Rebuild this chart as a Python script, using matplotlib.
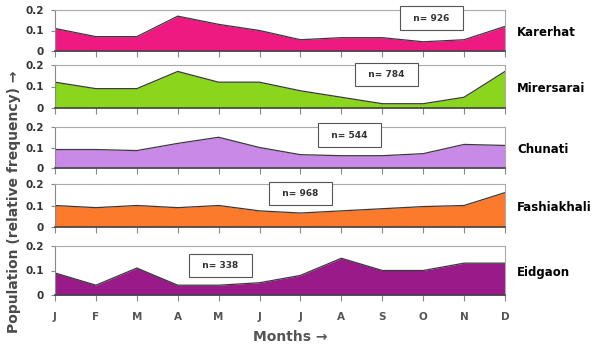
import matplotlib.pyplot as plt
import numpy as np

months = ["J", "F", "M", "A", "M", "J", "J", "A", "S", "O", "N", "D"]
sites = ["Karerhat", "Mirersarai", "Chunati", "Fashiakhali", "Eidgaon"]
sample_sizes = [926, 784, 544, 968, 338]

karerhat = [0.11, 0.07, 0.07, 0.17, 0.13, 0.10, 0.055, 0.065, 0.065, 0.045, 0.055, 0.12]
mirersarai = [0.12, 0.09, 0.09, 0.17, 0.12, 0.12, 0.08, 0.05, 0.02, 0.02, 0.05, 0.17]
chunati = [0.09, 0.09, 0.085, 0.12, 0.15, 0.10, 0.065, 0.06, 0.06, 0.07, 0.115, 0.11]
fashiakhali = [0.10, 0.09, 0.10, 0.09, 0.10, 0.075, 0.065, 0.075, 0.085, 0.095, 0.10, 0.16]
eidgaon = [0.09, 0.04, 0.11, 0.04, 0.04, 0.05, 0.08, 0.15, 0.10, 0.10, 0.13, 0.13]
series = [karerhat, mirersarai, chunati, fashiakhali, eidgaon]

colors = ["#ee1a82", "#8ad61c", "#c88ae6", "#fc7a2c", "#9a1a8a"]
# box centre (month index, value) for the "n=" labels
box_pos = [(9.2, 0.16), (8.1, 0.155), (7.2, 0.16), (6.0, 0.155), (4.05, 0.12)]

# panel extents in pixels (top, bottom)
panels_px = [(10, 51), (65, 108), (127, 168), (184, 227), (246, 295)]

W, H = 599, 351
fig = plt.figure(figsize=(W / 100, H / 100), dpi=100)
x = np.arange(len(months))
left, right = 55 / W, 505 / W

for i, (top, bot) in enumerate(panels_px):
    ax = fig.add_axes([left, 1 - bot / H, right - left, (bot - top) / H])
    ax.fill_between(x, series[i], 0, color=colors[i], lw=0)
    ax.plot(x, series[i], color="#3a3a3a", lw=0.9)
    ax.set_xlim(0, 11)
    ax.set_ylim(0, 0.2)
    ax.set_yticks([0, 0.1, 0.2])
    ax.set_yticklabels(["0", "0.1", "0.2"], fontsize=7.5, fontweight="bold", color="#333333")
    ax.set_xticks(x)
    if i == len(panels_px) - 1:
        ax.set_xticklabels(months, fontsize=7.5, fontweight="bold", color="#555555")
    else:
        ax.set_xticklabels([])
    ax.tick_params(axis="x", direction="out", length=4, color="#888888", pad=8)
    ax.tick_params(axis="y", direction="out", length=3, color="#888888", pad=5)
    for s in ["top", "right"]:
        ax.spines[s].set_color("#aaaaaa")
        ax.spines[s].set_linewidth(0.8)
    ax.spines["left"].set_color("#888888")
    ax.spines["bottom"].set_color("#444444")
    ax.spines["bottom"].set_linewidth(1.2)
    bx, by = box_pos[i]
    ax.text(bx, by, "  n= %d  " % sample_sizes[i], ha="center", va="center",
            fontsize=6.5, fontweight="bold", color="#333333",
            bbox=dict(boxstyle="square,pad=0.8", fc="white", ec="#555555", lw=0.8))
    fig.text(517 / W, 1 - ((top + bot) / 2 + 2) / H, sites[i], ha="left", va="center",
             fontsize=8.5, fontweight="bold", color="black")

fig.text(14 / W, 1 - 202 / H, "Population (relative frequency) \u2192", rotation=90,
         ha="center", va="center", fontsize=10, fontweight="bold", color="#4a4a4a")
fig.text(290 / W, 1 - 337 / H, "Months \u2192", ha="center", va="center",
         fontsize=10, fontweight="bold", color="#555555")

fig.savefig("out.png", dpi=100)
